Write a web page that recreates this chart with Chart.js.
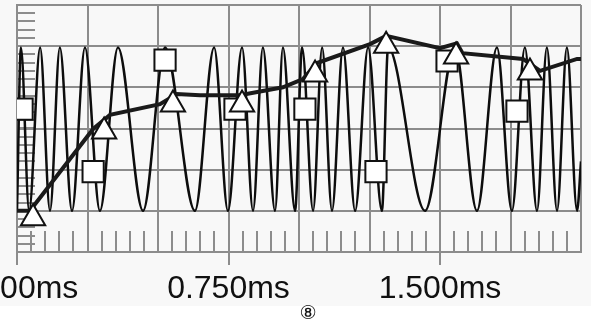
<!DOCTYPE html>
<html>
<head>
<meta charset="utf-8">
<script src="https://cdn.jsdelivr.net/npm/chart.js@4"></script>
<style>
  html, body { margin: 0; padding: 0; background: #fff; }
  #wrap { width: 591px; height: 328px; }
</style>
</head>
<body>
<div id="wrap"><canvas id="scope" width="591" height="328"></canvas></div>
<script>
// time axis (ms) and tick labels
var xLabels = ['0.000ms', '0.750ms', '1.500ms'];
var xLabelAt = [0, 0.75, 1.5];

// aliased signal trace: peaks and troughs
var waveMs = [0.000, 0.014, 0.043, 0.082, 0.117, 0.152, 0.195, 0.241, 0.294, 0.358,
              0.447, 0.525, 0.631, 0.699, 0.748, 0.798, 0.837, 0.872, 0.915, 0.943,
              0.986, 1.011, 1.050, 1.082, 1.117, 1.156, 1.199, 1.245, 1.294, 1.316,
              1.447, 1.553, 1.631, 1.702, 1.755, 1.801, 1.844, 1.879, 1.915, 1.950,
              1.986, 2.000];
var waveVal = [-2, 1.97, -2, 1.97, -2, 1.97, -2, 1.97, -2, 1.97,
               -2, 1.97, -2, 1.97, -2, 1.97, -2, 1.97, -2, 1.97,
               -2, 1.97, -2, 1.97, -2, 1.97, -2, 1.97, -2, 1.97,
               -2, 1.97, -2, 1.97, -2, 1.97, -2, 1.97, -2, 1.97,
               -2, -0.8];

// thick envelope trace
var envMs  = [0.000, 0.046, 0.270, 0.330, 0.507, 0.567, 0.649, 0.790, 0.943, 1.014,
              1.064, 1.252, 1.309, 1.500, 1.560, 1.580, 1.794, 1.855, 1.986, 2.000];
var envVal = [-2.0, -2.0, -0.01, 0.33, 0.59, 0.84, 0.81, 0.81, 1.00, 1.20,
              1.59, 2.05, 2.25, 1.95, 2.07, 1.83, 1.69, 1.40, 1.69, 1.69];

// triangle markers
var triMs  = [0.057, 0.309, 0.553, 0.798, 1.057, 1.309, 1.557, 1.819];
var triVal = [-2.18, -0.07, 0.58, 0.58, 1.31, 2.01, 1.75, 1.36];

// square markers
var sqMs  = [0.018, 0.270, 0.525, 0.773, 1.021, 1.273, 1.525, 1.773];
var sqVal = [0.47, -1.05, 1.66, 0.47, 0.47, -1.05, 1.64, 0.42];

function pts(xs, ys) {
  var out = [];
  for (var i = 0; i < xs.length; i++) out.push({ x: xs[i], y: ys[i] });
  return out;
}

var gridGray = '#8c8c8c';

// scope decorations: background, inner minor ticks, axis labels
var scopeDeco = {
  id: 'scopeDeco',
  beforeDraw: function (chart) {
    var c = chart.ctx;
    c.save();
    c.fillStyle = '#f8f8f8';
    c.fillRect(0, 0, chart.width, 306);
    c.fillStyle = '#ffffff';
    c.fillRect(0, 306, chart.width, chart.height - 306);
    c.restore();
  },
  beforeDatasetsDraw: function (chart) {
    var c = chart.ctx, a = chart.chartArea;
    var xs = chart.scales.x, ys = chart.scales.y;
    c.save();
    c.strokeStyle = gridGray;
    c.lineWidth = 2;
    c.beginPath();
    // left minor ticks, 5 per division
    for (var v = -3; v <= 3.001; v += 0.2) {
      var py = Math.round(ys.getPixelForValue(v));
      c.moveTo(a.left, py);
      c.lineTo(a.left + 18, py);
    }
    // bottom minor ticks, 5 per division
    for (var t = 0; t <= 2.001; t += 0.05) {
      var px = Math.round(xs.getPixelForValue(t));
      c.moveTo(px, a.bottom);
      c.lineTo(px, a.bottom - 21);
    }
    c.stroke();
    c.restore();
  },
  afterDraw: function (chart) {
    var c = chart.ctx, a = chart.chartArea;
    var xs = chart.scales.x;
    c.save();
    c.strokeStyle = gridGray;
    c.lineWidth = 2;
    c.beginPath();
    for (var i = 0; i < xLabelAt.length; i++) {
      var px = Math.round(xs.getPixelForValue(xLabelAt[i]));
      c.moveTo(px, a.bottom);
      c.lineTo(px, a.bottom + 13);
    }
    c.stroke();
    c.fillStyle = '#111';
    c.font = '32px "Liberation Sans", Arial, sans-serif';
    c.textAlign = 'center';
    c.textBaseline = 'middle';
    for (var j = 0; j < xLabels.length; j++) {
      c.fillText(xLabels[j], xs.getPixelForValue(xLabelAt[j]), 289);
    }
    c.font = '19px "DejaVu Sans", sans-serif';
    c.fillText('⑧', 308, 314);
    c.restore();
  }
};

var ctx = document.getElementById('scope').getContext('2d');

var scopeChart = new Chart(ctx, {
  type: 'line',
  data: {
    datasets: [
      {
        label: 'signal',
        data: pts(waveMs, waveVal),
        borderColor: '#0d0d0d',
        borderWidth: 2.5,
        pointRadius: 0,
        cubicInterpolationMode: 'monotone',
        fill: false,
        order: 4
      },
      {
        label: 'envelope',
        data: pts(envMs, envVal),
        borderColor: '#1a1a1a',
        borderWidth: 4,
        pointRadius: 0,
        tension: 0,
        fill: false,
        order: 3
      },
      {
        label: 'squares',
        data: pts(sqMs, sqVal),
        showLine: false,
        pointStyle: 'rect',
        pointRadius: 15,
        pointBackgroundColor: '#fff',
        pointBorderColor: '#111',
        pointBorderWidth: 2,
        order: 2
      },
      {
        label: 'triangles',
        data: pts(triMs, triVal),
        showLine: false,
        pointStyle: 'triangle',
        pointRadius: 14,
        pointBackgroundColor: '#fff',
        pointBorderColor: '#111',
        pointBorderWidth: 2,
        order: 1
      }
    ]
  },
  options: {
    responsive: false,
    animation: false,
    events: [],
    layout: {
      autoPadding: false,
      padding: { left: 17, right: 10, top: 5, bottom: 76 }
    },
    plugins: {
      legend: { display: false },
      tooltip: { enabled: false }
    },
    scales: {
      x: {
        type: 'linear',
        min: 0,
        max: 2,
        ticks: { display: false, stepSize: 0.25 },
        grid: { color: gridGray, lineWidth: 2, drawTicks: false },
        border: { color: gridGray, width: 2 }
      },
      y: {
        min: -3,
        max: 3,
        ticks: { display: false, stepSize: 1 },
        grid: { color: gridGray, lineWidth: 2, drawTicks: false },
        border: { color: gridGray, width: 2 }
      }
    }
  },
  plugins: [scopeDeco]
});
</script>
</body>
</html>
